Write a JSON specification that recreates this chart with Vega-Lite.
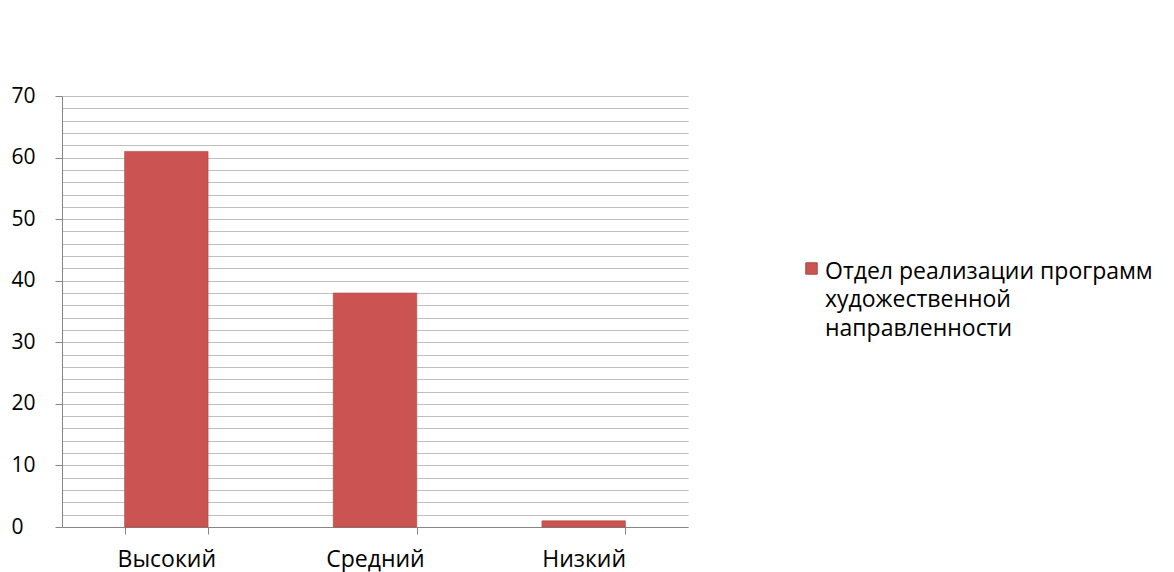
{
  "$schema": "https://vega.github.io/schema/vega-lite/v6.json",
  "width": 626,
  "height": 431,
  "autosize": {"type": "none"},
  "padding": {"left": 62, "top": 96, "right": 486, "bottom": 45},
  "background": "white",
  "config": {
    "view": {"stroke": null},
    "font": "Open Sans"
  },
  "data": {
    "values": [
      {"level": "Высокий", "value": 61, "series": "Отдел реализации программ художественной направленности"},
      {"level": "Средний", "value": 38, "series": "Отдел реализации программ художественной направленности"},
      {"level": "Низкий", "value": 1, "series": "Отдел реализации программ художественной направленности"}
    ]
  },
  "mark": {"type": "bar", "stroke": "#a94442", "strokeWidth": 1, "strokeOpacity": 0.6},
  "encoding": {
    "x": {
      "field": "level",
      "type": "nominal",
      "sort": null,
      "title": null,
      "scale": {"paddingInner": 0.6, "paddingOuter": 0.3},
      "axis": {
        "labelAngle": 0,
        "labelFont": "Open Sans",
        "labelFontSize": 23,
        "labelColor": "#000000",
        "labelPadding": 14,
        "tickBand": "extent",
        "tickSize": 7,
        "tickColor": "#868686",
        "domainColor": "#868686",
        "grid": false
      }
    },
    "y": {
      "field": "value",
      "type": "quantitative",
      "title": null,
      "scale": {"domain": [0, 70], "nice": false},
      "axis": {
        "values": [0, 2, 4, 6, 8, 10, 12, 14, 16, 18, 20, 22, 24, 26, 28, 30, 32, 34, 36, 38, 40, 42, 44, 46, 48, 50, 52, 54, 56, 58, 60, 62, 64, 66, 68, 70],
        "labelExpr": "datum.value % 10 === 0 ? datum.label : ''",
        "labelAlign": "left",
        "labelPadding": 44,
        "labelFont": "Open Sans",
        "labelFontSize": 21,
        "labelColor": "#000000",
        "tickSize": 7,
        "tickColor": "#868686",
        "tickOpacity": {"condition": {"test": "datum.value % 10 !== 0", "value": 0}, "value": 1},
        "domainColor": "#868686",
        "grid": true,
        "gridColor": "#bfbfbf",
        "gridWidth": 1.2
      }
    },
    "color": {
      "field": "series",
      "type": "nominal",
      "scale": {"range": ["#cb5452"]},
      "legend": {
        "title": null,
        "orient": "none",
        "legendX": 738,
        "legendY": 161,
        "symbolType": "square",
        "symbolSize": 130,
        "symbolStrokeColor": "#a94442",
        "symbolStrokeWidth": 1,
        "labelFont": "Open Sans",
        "labelFontSize": 23,
        "labelColor": "#000000",
        "labelLimit": 500,
        "labelBaseline": "top",
        "labelOffset": 2,
        "labelExpr": "['Отдел реализации программ', 'художественной', 'направленности']",
        "encode": {
          "labels": {"update": {"dy": {"value": -8}, "lineHeight": {"value": 28.5}}}
        }
      }
    }
  }
}
